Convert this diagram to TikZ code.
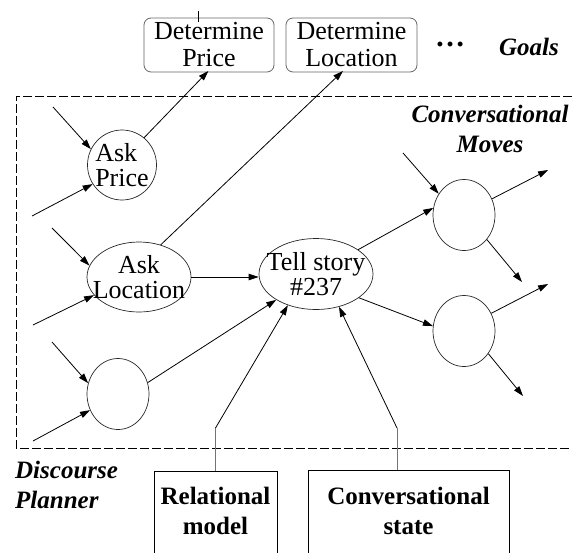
\documentclass[tikz,border=0pt]{standalone}
\usepackage{fontspec}
\setmainfont{Liberation Serif}
\usetikzlibrary{shapes.geometric,arrows.meta}
\begin{document}
\begin{tikzpicture}[x=1pt,y=-1pt,
  every node/.style={inner sep=0pt},
  link/.style={line width=0.8pt, -{Triangle[length=10pt,width=6.5pt]}},
  feed/.style={line width=0.8pt, draw=black!55},
  move/.style={draw=black!85, line width=0.7pt, ellipse},
  goal/.style={draw=black!60, line width=0.8pt, rounded corners=7pt,
    minimum height=54pt, align=center,
    font=\fontsize{26}{27}\selectfont},
  movetext/.style={align=center, font=\fontsize{26}{25}\selectfont},
  tag/.style={font=\fontsize{25}{30}\selectfont\bfseries\itshape, align=center},
  source/.style={draw, line width=0.8pt, anchor=north, minimum height=120pt},
  sourcetext/.style={font=\fontsize{25}{30}\selectfont\bfseries, align=center},
  frame/.style={line width=0.8pt, dash pattern=on 9pt off 3pt}
]
\useasboundingbox (0,0) rectangle (572,552);
\clip (0,0) rectangle (572,552);

% goals
\node[goal, minimum width=130pt] (dp) at (209,45) {Determine\\Price};
\node[goal, minimum width=131pt] (dl) at (351.5,45) {Determine\\Location};
\node[font=\fontsize{30}{30}\selectfont\bfseries, anchor=base] (more) at (450,46) {\ldots};
\node[tag] (goals) at (529,47) {Goals};
\draw[line width=0.6pt] (198,11) -- (198,22);

% discourse planner frame
\draw[frame] (572,96) -- (16,96) -- (16,448) -- (572,448);
\node[tag] (moves) at (490,129) {Conversational\\Moves};
\node[tag, align=left, anchor=west] (planner) at (15,485) {Discourse\\Planner};

% conversational moves
\node[move, minimum width=69pt, minimum height=70pt] (ap) at (122,165) {};
\node[movetext, align=left] (aptext) at (ap) {Ask\\Price};
\node[move, minimum width=104pt, minimum height=70pt] (al) at (139,277) {};
\node[movetext] (altext) at (al) {Ask\\Location};
\node[move, minimum width=62pt, minimum height=71pt] (bl) at (118,394) {};
\node[move, minimum width=114pt, minimum height=71pt] (ts) at (316,274) {};
\node[movetext] (tstext) at (ts) {Tell story\\\#237};
\node[move, minimum width=62pt, minimum height=71pt] (ru) at (464,215) {};
\node[move, minimum width=62pt, minimum height=71pt] (rl) at (464,331) {};

% knowledge sources
\node[source, minimum width=123pt] (relbox) at (215.5,471) {};
\node[sourcetext] (reltext) at (215.5,511) {Relational\\model};
\node[source, minimum width=201pt] (csbox) at (408.5,470) {};
\node[sourcetext] (cstext) at (408.5,511) {Conversational\\state};

% loose ends
\coordinate (ap-a) at (53,107);
\coordinate (ap-b) at (32,216);
\coordinate (al-a) at (52,228);
\coordinate (al-b) at (33,325);
\coordinate (bl-a) at (52,342);
\coordinate (bl-b) at (33,441);
\coordinate (ru-a) at (403,153);
\coordinate (ru-o1) at (548,170);
\coordinate (ru-o2) at (522,282);
\coordinate (rl-o1) at (548,284);
\coordinate (rl-o2) at (523,396);
\coordinate (relbend) at (215.5,428);
\coordinate (csbend) at (397,428);

% incoming moves
\draw[link] (ap-a) -- (ap.153);
\draw[link] (ap-b) -- (ap.213);
\draw[link] (al-a) -- (al.167);
\draw[link] (al-b) -- (al.202);
\draw[link] (bl-a) -- (bl.160);
\draw[link] (bl-b) -- (bl.210);
\draw[link] (ru-a) -- (ru.140);

% moves to goals
\draw[link, shorten >=-2pt] (ap.51) -- ([xshift=-2pt]dp.south);
\draw[link, shorten >=-2pt] (al.56) -- ([xshift=-10pt]dl.south);

% moves to the story
\draw[link] (al.east) -- (al.east -| ts.west);
\draw[link] (bl.21) -- (ts.213);
\draw[feed] (relbox.north) -- (relbend);
\draw[link] (relbend) -- (ts.228);
\draw[feed] (csbox.north -| csbend) -- (csbend);
\draw[link] (csbend) -- (ts.305);

% story to next moves
\draw[link] (ts.30) -- (ru.167);
\draw[link] (ts.331) -- (rl.171);
\draw[link] (ru.30) -- (ru-o1);
\draw[link] (ru.313) -- (ru-o2);
\draw[link] (rl.33) -- (rl-o1);
\draw[link] (rl.317) -- (rl-o2);
\end{tikzpicture}
\end{document}
